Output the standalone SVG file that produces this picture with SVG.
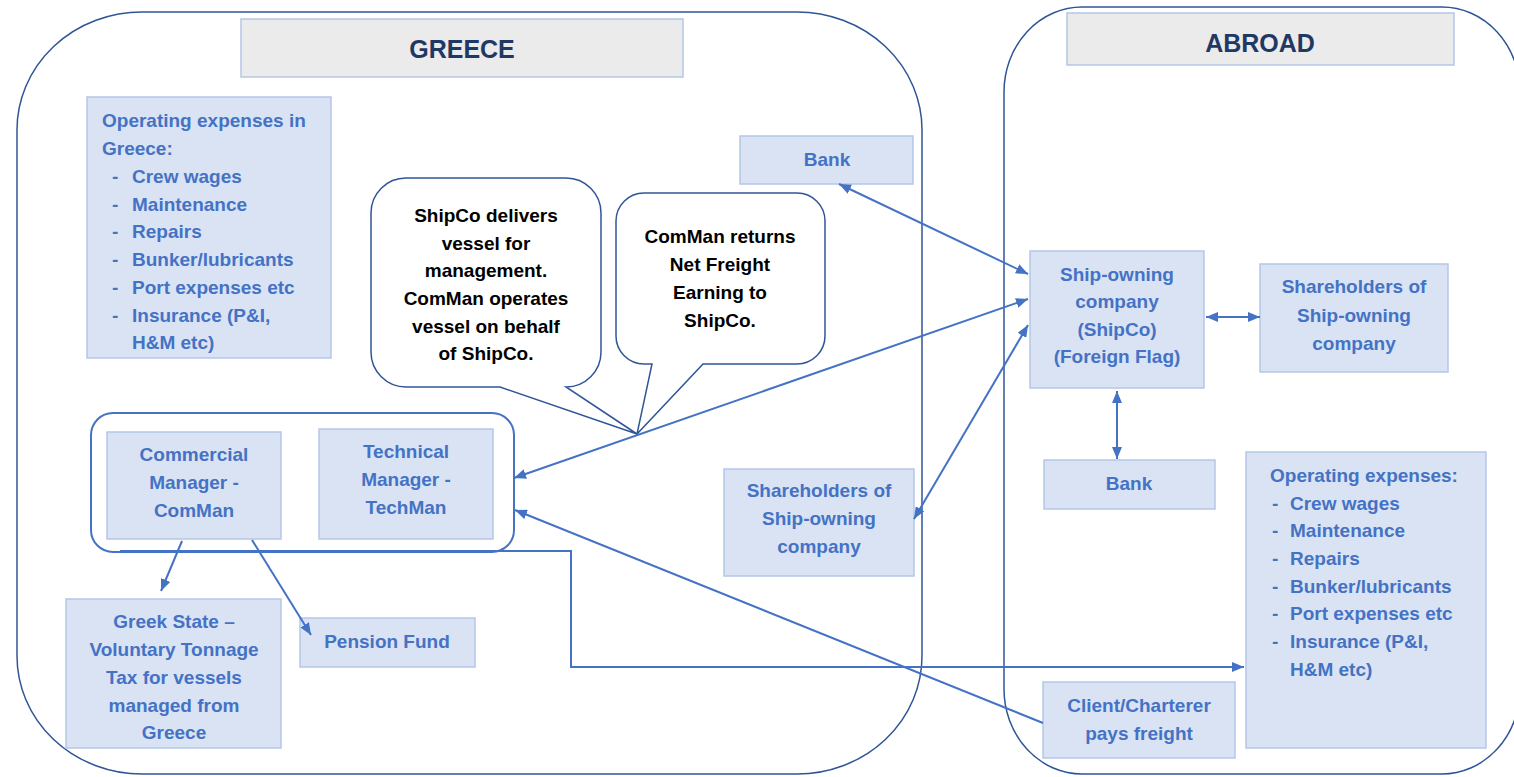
<svg xmlns="http://www.w3.org/2000/svg" width="1514" height="777" viewBox="0 0 1514 777">
<style>
.node rect{fill:#dae3f3;stroke:#b4c7e7;stroke-width:1.5}
.node text{font-family:"Liberation Sans",Arial,sans-serif;font-weight:bold;font-size:19px;fill:#4472c4}
.c{text-anchor:middle}
.hdr rect{fill:#ebebeb;stroke:#b4c7e7;stroke-width:1.5}
.hdr text{font-family:"Liberation Sans",Arial,sans-serif;font-weight:bold;font-size:25px;fill:#1f3864;text-anchor:middle}
.cont{fill:none;stroke:#2f5597;stroke-width:1.5}
.bub path{fill:#fff;stroke:#2f5597;stroke-width:1.5}
.bub text{font-family:"Liberation Sans",Arial,sans-serif;font-weight:bold;font-size:19px;fill:#000;text-anchor:middle}
.conn{fill:none;stroke:#4472c4;stroke-width:2}
</style>
<defs>
<marker id="ah" viewBox="0 0 12 10" refX="12" refY="5" markerWidth="12" markerHeight="10" markerUnits="userSpaceOnUse" orient="auto-start-reverse">
<path d="M0,0 L12,5 L0,10 z" fill="#4472c4"/>
</marker>
</defs>

<g id="greece-container"><rect class="cont" x="17" y="12" width="905" height="762" rx="125" ry="118"/></g>
<g id="abroad-container"><rect class="cont" x="1004" y="7" width="516" height="767" rx="78" ry="85"/></g>

<g id="greece-header" class="hdr"><rect x="241" y="19" width="442" height="58"/><text x="462" y="58">GREECE</text></g>
<g id="abroad-header" class="hdr"><rect x="1067" y="13" width="387" height="52"/><text x="1260" y="52">ABROAD</text></g>

<g id="opex-greece" class="node">
<rect x="87" y="97" width="244" height="261"/>
<text x="102" y="127">Operating expenses in</text>
<text x="102" y="155">Greece:</text>
<text x="112" y="183">-</text><text x="132" y="183">Crew wages</text>
<text x="112" y="211">-</text><text x="132" y="211">Maintenance</text>
<text x="112" y="238">-</text><text x="132" y="238">Repairs</text>
<text x="112" y="266">-</text><text x="132" y="266">Bunker/lubricants</text>
<text x="112" y="294">-</text><text x="132" y="294">Port expenses etc</text>
<text x="112" y="322">-</text><text x="132" y="322">Insurance (P&amp;I,</text>
<text x="132" y="349">H&amp;M etc)</text>
</g>

<g id="bubble-delivers" class="bub">
<path d="M406,178 H566 A35,35 0 0 1 601,213 V352 A35,35 0 0 1 566,387 L637,434 L500,387 H406 A35,35 0 0 1 371,352 V213 A35,35 0 0 1 406,178 Z"/>
<text x="486" y="222">ShipCo delivers</text>
<text x="486" y="250">vessel for</text>
<text x="486" y="277">management.</text>
<text x="486" y="305">ComMan operates</text>
<text x="486" y="333">vessel on behalf</text>
<text x="486" y="360">of ShipCo.</text>
</g>

<g id="bubble-returns" class="bub">
<path d="M644,193 H797 A28,28 0 0 1 825,221 V336 A28,28 0 0 1 797,364 H703 L637,434 L652,364 H644 A28,28 0 0 1 616,336 V221 A28,28 0 0 1 644,193 Z"/>
<text x="720" y="243">ComMan returns</text>
<text x="720" y="271">Net Freight</text>
<text x="720" y="299">Earning to</text>
<text x="720" y="327">ShipCo.</text>
</g>

<g id="bank-greece" class="node"><rect x="740" y="136" width="173" height="48"/><text class="c" x="827" y="166">Bank</text></g>

<g id="managers-group"><rect x="91" y="413" width="423" height="139" rx="22" ry="22" fill="none" stroke="#4472c4" stroke-width="2"/></g>

<g id="comman" class="node">
<rect x="107" y="432" width="174" height="107"/>
<text class="c" x="194" y="461">Commercial</text>
<text class="c" x="194" y="489">Manager -</text>
<text class="c" x="194" y="517">ComMan</text>
</g>
<g id="techman" class="node">
<rect x="319" y="429" width="174" height="110"/>
<text class="c" x="406" y="458">Technical</text>
<text class="c" x="406" y="486">Manager -</text>
<text class="c" x="406" y="514">TechMan</text>
</g>

<g id="greek-state" class="node">
<rect x="66" y="599" width="215" height="149"/>
<text class="c" x="174" y="628">Greek State –</text>
<text class="c" x="174" y="656">Voluntary Tonnage</text>
<text class="c" x="174" y="684">Tax for vessels</text>
<text class="c" x="174" y="712">managed from</text>
<text class="c" x="174" y="739">Greece</text>
</g>

<g id="pension" class="node"><rect x="300" y="618" width="175" height="49"/><text class="c" x="387" y="648">Pension Fund</text></g>

<g id="shareholders-greece" class="node">
<rect x="724" y="469" width="190" height="107"/>
<text class="c" x="819" y="497">Shareholders of</text>
<text class="c" x="819" y="525">Ship-owning</text>
<text class="c" x="819" y="553">company</text>
</g>

<g id="shipco" class="node">
<rect x="1030" y="251" width="174" height="137"/>
<text class="c" x="1117" y="281">Ship-owning</text>
<text class="c" x="1117" y="308">company</text>
<text class="c" x="1117" y="336">(ShipCo)</text>
<text class="c" x="1117" y="363">(Foreign Flag)</text>
</g>

<g id="shareholders-abroad" class="node">
<rect x="1260" y="264" width="188" height="108"/>
<text class="c" x="1354" y="293">Shareholders of</text>
<text class="c" x="1354" y="322">Ship-owning</text>
<text class="c" x="1354" y="350">company</text>
</g>

<g id="bank-abroad" class="node"><rect x="1044" y="460" width="171" height="49"/><text class="c" x="1129" y="490">Bank</text></g>

<g id="opex-abroad" class="node">
<rect x="1246" y="452" width="240" height="296"/>
<text x="1270" y="482">Operating expenses:</text>
<text x="1272" y="510">-</text><text x="1290" y="510">Crew wages</text>
<text x="1272" y="537">-</text><text x="1290" y="537">Maintenance</text>
<text x="1272" y="565">-</text><text x="1290" y="565">Repairs</text>
<text x="1272" y="593">-</text><text x="1290" y="593">Bunker/lubricants</text>
<text x="1272" y="620">-</text><text x="1290" y="620">Port expenses etc</text>
<text x="1272" y="648">-</text><text x="1290" y="648">Insurance (P&amp;I,</text>
<text x="1290" y="676">H&amp;M etc)</text>
</g>

<g id="client" class="node">
<rect x="1043" y="682" width="192" height="76"/>
<text class="c" x="1139" y="712">Client/Charterer</text>
<text class="c" x="1139" y="740">pays freight</text>
</g>

<g id="connectors">
<line class="conn" x1="839" y1="184" x2="1028" y2="274" marker-start="url(#ah)" marker-end="url(#ah)"/>
<line class="conn" x1="514" y1="478" x2="1028" y2="299" marker-start="url(#ah)" marker-end="url(#ah)"/>
<line class="conn" x1="914" y1="519" x2="1028" y2="325" marker-start="url(#ah)" marker-end="url(#ah)"/>
<line class="conn" x1="1206" y1="317" x2="1260" y2="317" marker-start="url(#ah)" marker-end="url(#ah)"/>
<line class="conn" x1="1117" y1="391" x2="1117" y2="459" marker-start="url(#ah)" marker-end="url(#ah)"/>
<line class="conn" x1="1043" y1="723" x2="515" y2="510" marker-end="url(#ah)"/>
<line class="conn" x1="182" y1="541" x2="161" y2="591" marker-end="url(#ah)"/>
<line class="conn" x1="252" y1="540" x2="311" y2="635" marker-end="url(#ah)"/>
<polyline class="conn" points="120,551 571,551 571,667 1244,667" marker-end="url(#ah)"/>
</g>
</svg>
